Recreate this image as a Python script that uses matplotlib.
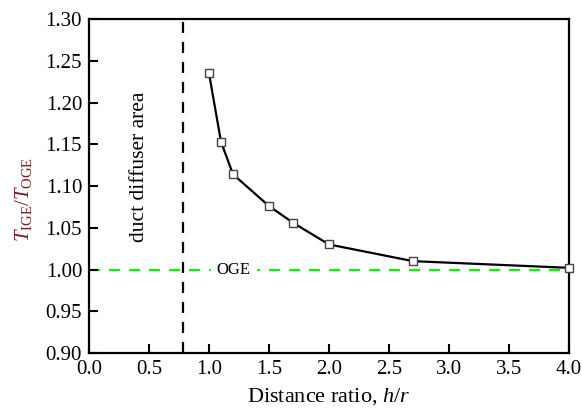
import matplotlib
matplotlib.use("Agg")
import matplotlib.pyplot as plt

plt.rcParams["font.family"] = ["Liberation Serif", "DejaVu Serif"]
plt.rcParams["mathtext.fontset"] = "custom"
plt.rcParams["mathtext.rm"] = "Liberation Serif"
plt.rcParams["mathtext.it"] = "Liberation Serif:italic"

# data
h_over_r = [1.0, 1.1, 1.2, 1.5, 1.7, 2.0, 2.7, 4.0]
thrust_ratio = [1.235, 1.153, 1.114, 1.076, 1.056, 1.030, 1.010, 1.002]
duct_limit = 0.78
oge_level = 1.0
x_ticks = [0.0, 0.5, 1.0, 1.5, 2.0, 2.5, 3.0, 3.5, 4.0]
y_ticks = [0.90, 0.95, 1.00, 1.05, 1.10, 1.15, 1.20, 1.25, 1.30]

fig = plt.figure(figsize=(5.82, 4.11), dpi=100)
ax = fig.add_axes([89 / 582, 1 - 353 / 411, 480 / 582, 334 / 411])

ax.axhline(oge_level, color="#11ee11", linestyle=(0, (5, 4)), linewidth=1.6, zorder=1)
ax.axvline(duct_limit, color="black", linestyle=(0, (5, 4)), linewidth=1.6, zorder=1)
ax.plot(h_over_r, thrust_ratio, color="black", linewidth=1.6, marker="s",
        markersize=6.2, markerfacecolor="white", markeredgecolor="#444444",
        markeredgewidth=1.0, clip_on=False, zorder=3)

ax.text(1.2, oge_level, "OGE", fontsize=12, ha="center", va="center",
        backgroundcolor="white", zorder=2)
ax.text(0.42, 1.123, "duct diffuser area", fontsize=15.5, rotation=90,
        ha="center", va="center")

ax.set_xlim(0.0, 4.0)
ax.set_ylim(0.90, 1.30)
ax.set_xticks(x_ticks)
ax.set_yticks(y_ticks)
ax.set_xticklabels([f"{v:.1f}" for v in x_ticks])
ax.set_yticklabels([f"{v:.2f}" for v in y_ticks])
ax.tick_params(direction="in", length=6.5, width=1.5, labelsize=15,
               top=False, right=False, pad=5)
for side in ax.spines.values():
    side.set_linewidth(1.6)

ax.set_xlabel(r"Distance ratio, $h/r$", fontsize=16, labelpad=5)
ax.set_ylabel(r"$T_{\mathrm{IGE}}/T_{\mathrm{OGE}}$", fontsize=15,
              color="#7a2020", va="center")
ax.yaxis.set_label_coords(-0.137, 0.46)

fig.savefig("out.png", dpi=100)
